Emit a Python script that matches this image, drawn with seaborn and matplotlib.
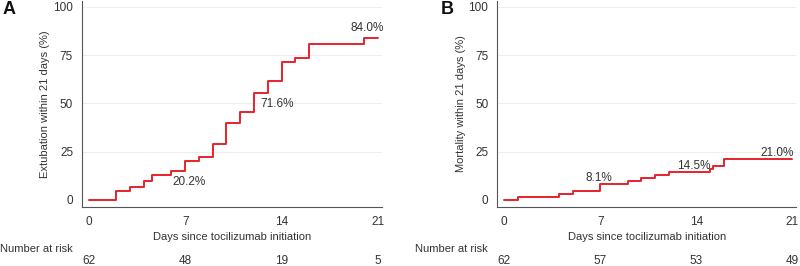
import matplotlib
matplotlib.use("Agg")
import matplotlib.pyplot as plt
import matplotlib.transforms as mtransforms
import seaborn as sns
import pandas as pd

# Data
days_a = [0, 2, 3, 4, 4.6, 6, 7, 8, 9, 10, 11, 12, 13, 14, 15, 16, 20, 21]
extubation = [0, 4.8, 6.5, 9.7, 13.1, 15.0, 20.2, 22.1, 29.0, 40.0, 45.5, 55.2, 61.4, 71.6, 73.6, 80.9, 84.0, 84.0]
days_b = [0, 1, 4, 5, 7, 9, 10, 11, 12, 15, 15.2, 16, 21]
mortality = [0, 1.6, 3.2, 4.8, 8.1, 9.7, 11.3, 12.9, 14.5, 16.1, 17.7, 21.0, 21.0]
xticks = [0, 7, 14, 21]
yticks = [0, 25, 50, 75, 100]
risk_a = [62, 48, 19, 5]
risk_b = [62, 57, 53, 49]
labels_a = [(7.3, 9.5, "20.2%"), (13.65, 49.5, "71.6%"), (20.2, 89.0, "84.0%")]
labels_b = [(6.9, 11.2, "8.1%"), (13.8, 17.7, "14.5%"), (19.9, 24.1, "21.0%")]

sns.set_style("white")
plt.rcParams["font.family"] = ["Liberation Sans", "DejaVu Sans"]

fig = plt.figure(figsize=(8, 2.66), dpi=100)
W, H = 800, 266
FS = 8

def add_axes(left_px, right_px, top_px, bottom_px):
    return fig.add_axes([left_px / W, 1 - bottom_px / H, (right_px - left_px) / W, (bottom_px - top_px) / H])

axA = add_axes(82.1, 381.9, 1, 206.7)
axB = add_axes(497.4, 796.4, 1, 206.7)

red = "#e8222b"
txtc = "#333333"
spc = "#555555"

panels = [
    (axA, days_a, extubation, "Extubation within 21 days (%)", labels_a, risk_a, "A", 9, 0),
    (axB, days_b, mortality, "Mortality within 21 days (%)", labels_b, risk_b, "B", 447, 415),
]

for ax, d, v, ylab, labs, risk, letter, letter_x, nar_x in panels:
    df = pd.DataFrame({"day": d, "val": v})
    sns.lineplot(data=df, x="day", y="val", ax=ax, color=red, linewidth=1.4,
                 drawstyle="steps-post", estimator=None, sort=False)
    ax.set_xlim(-0.5, 21.3)
    ax.set_ylim(-3.5, 103)
    ax.set_xticks(xticks)
    ax.set_yticks(yticks)
    ax.set_xticklabels([str(t) for t in xticks], fontsize=FS + 0.5, color=txtc)
    ax.set_yticklabels([str(t) for t in yticks], fontsize=FS + 0.5, color=txtc)
    ax.tick_params(axis="both", direction="out", length=4.5, width=0.8, color=spc, pad=2)
    for yv in [25, 50, 75, 100]:
        ax.axhline(yv, color="#eeeeee", linewidth=0.8, zorder=0)
    for s in ["top", "right"]:
        ax.spines[s].set_visible(False)
    for s in ["left", "bottom"]:
        ax.spines[s].set_color(spc)
        ax.spines[s].set_linewidth(0.8)
    ax.set_xlabel("Days since tocilizumab initiation", fontsize=FS, color=txtc, labelpad=3)
    ax.set_ylabel(ylab, fontsize=FS, color=txtc, labelpad=2)
    for x, y, t in labs:
        ax.text(x, y, t, ha="center", va="center", fontsize=FS + 0.5, color=txtc)
    ax.patch.set_alpha(0)
    # number at risk
    trans = mtransforms.blended_transform_factory(ax.transData, fig.transFigure)
    fig.text(nar_x / W, 1 - 249 / H, "Number at risk", ha="left", va="center", fontsize=FS, color=txtc)
    for xt, r in zip(xticks, risk):
        ax.text(xt, 1 - 260.5 / H, str(r), transform=trans, ha="center", va="center",
                fontsize=FS + 0.5, color=txtc, clip_on=False)
    fig.text(letter_x / W, 1 - 10 / H, letter, ha="center", va="center", fontsize=13,
             fontweight="bold", color="#111111")

fig.savefig("out.png", dpi=100)
